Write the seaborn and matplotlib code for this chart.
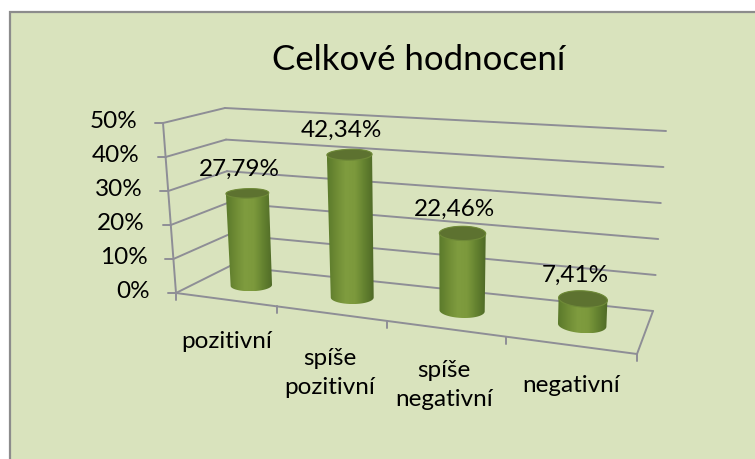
import numpy as np
import pandas as pd
import matplotlib
matplotlib.use('Agg')
import matplotlib.pyplot as plt
from matplotlib.patches import Polygon, Rectangle
import seaborn as sns

categories = ['pozitivní', 'spíše\npozitivní', 'spíše\nnegativní', 'negativní']
values = [27.79, 42.34, 22.46, 7.41]
value_labels = ['27,79%', '42,34%', '22,46%', '7,41%']
y_ticks = [0, 10, 20, 30, 40, 50]
y_tick_labels = ['0%', '10%', '20%', '30%', '40%', '50%']
title = 'Celkové hodnocení'

sns.set_theme(style='white')
plt.rcParams['font.family'] = ['Lato', 'DejaVu Sans']

W, H = 755, 459
BG = '#d9e3bd'
GRID = '#8e8e96'
TEXT = '#000000'
Y_MAX = 50
N_CAT = len(categories)

# floor corners in pixels, and how far each moves at the 50% level
FL, FR, BR, BL = [np.array(p, float) for p in [(176, 293), (637, 354), (653, 311), (230, 266)]]
D_FL, D_FR, D_BR, D_BL = [np.array(p, float) for p in [(-13, -170), (3, -175), (13, -180), (-5, -158)]]
PERSP = 1.19  # foreshortening along the category axis


def bilinear(a, b, c, d, s, v):
    s, v = s[..., None], v[..., None]
    return (a * (1 - s) + b * s) * (1 - v) + (d * (1 - s) + c * s) * v


def proj(u, v, w):
    u, v, w = np.broadcast_arrays(np.asarray(u, float), np.asarray(v, float), np.asarray(w, float))
    s = u / N_CAT
    s = s / (s + PERSP * (1 - s))
    p = bilinear(FL, FR, BR, BL, s, v) + bilinear(D_FL, D_FR, D_BR, D_BL, s, v) * (w / Y_MAX)[..., None]
    return p[..., 0], p[..., 1]


def convex_hull(points):
    pts = points[np.lexsort((points[:, 1], points[:, 0]))]
    hull = []
    for seq in (pts, pts[::-1]):
        start = len(hull)
        for p in seq:
            while len(hull) - start >= 2:
                a, b = hull[-1] - hull[-2], p - hull[-2]
                if a[0] * b[1] - a[1] * b[0] > 0:
                    break
                hull.pop()
            hull.append(p)
        hull.pop()
    return np.array(hull)


fig = plt.figure(figsize=(W / 100, H / 100), dpi=100, facecolor='white')
ax = fig.add_axes([0, 0, 1, 1])

# chart area runs off the right and bottom of the picture
ax.add_patch(Rectangle((9.5, 11.5), 800, 500, facecolor=BG, edgecolor='#8c8c8c', lw=1.6))

# walls, floor and ticks
segments = []
for t in y_ticks:
    segments.append((proj(0, 0, t), proj(0, 1, t)))
    segments.append((proj(0, 1, t), proj(N_CAT, 1, t)))
    x0, y0 = proj(0, 0, t)
    segments.append(((x0, y0), (x0 - 8, y0)))
segments.append((proj(0, 0, 0), proj(0, 0, Y_MAX)))
segments.append((proj(0, 0, 0), proj(N_CAT, 0, 0)))
segments.append((proj(N_CAT, 0, 0), proj(N_CAT, 1, 0)))
for i in range(N_CAT + 1):
    x0, y0 = proj(i, 0, 0)
    segments.append(((x0, y0), (x0, y0 + 7)))

rows = []
for n, seg in enumerate(segments):
    for px, py in seg:
        rows.append({'seg': n, 'px': float(px), 'py': float(py)})
grid = pd.DataFrame(rows)
sns.lineplot(data=grid, x='px', y='py', units='seg', estimator=None, sort=False,
             color=GRID, lw=1.4, ax=ax, legend=False)

# cylinders
shade = np.array(sns.blend_palette(['#5b7a2b', '#6f8c35', '#7f9c3f', '#7c993c', '#648230', '#4f6a27'], 64))
theta = np.linspace(0, 2 * np.pi, 90)
R_U, R_V = 0.19, 0.19
V_MID = 0.5

for i, val in enumerate(values):
    cu = i + 0.51
    bx, by = proj(cu + R_U * np.cos(theta), V_MID + R_V * np.sin(theta), 0)
    tx, ty = proj(cu + R_U * np.cos(theta), V_MID + R_V * np.sin(theta), val)
    hull = convex_hull(np.vstack([np.column_stack([bx, by]), np.column_stack([tx, ty])]))
    clip = Polygon(hull, closed=True, transform=ax.transData, facecolor='none', edgecolor='none')
    ax.add_patch(clip)
    im = ax.imshow(shade[np.newaxis, :, :], aspect='auto', zorder=3, interpolation='bilinear',
                   extent=(hull[:, 0].min(), hull[:, 0].max(), hull[:, 1].max(), hull[:, 1].min()))
    im.set_clip_path(clip)
    ax.add_patch(Polygon(np.column_stack([tx, ty]), closed=True, facecolor='#5d7230',
                         edgecolor='#6f8a38', lw=0.8, zorder=4))
    lx, ly = proj(cu, V_MID, val)
    ax.text(float(lx) - 8, float(ly) - 24, value_labels[i], ha='center', va='center',
            fontsize=17.5, color=TEXT, zorder=5)

for t, lab in zip(y_ticks, y_tick_labels):
    px, py = proj(0, 0, t)
    ax.text(float(px) - 26, float(py) - 1, lab, ha='right', va='center', fontsize=17.5, color=TEXT)

label_pos = [(227, 341), (330, 373), (444, 385), (571, 385)]
for lab, (px, py) in zip(categories, label_pos):
    ax.text(px, py, lab, ha='center', va='center', fontsize=17.5, color=TEXT, linespacing=1.45)

ax.text(419, 60, title, ha='center', va='center', fontsize=25, color=TEXT)

ax.set_xlim(0, W)
ax.set_ylim(H, 0)
ax.axis('off')

fig.savefig('out.png', dpi=100)
